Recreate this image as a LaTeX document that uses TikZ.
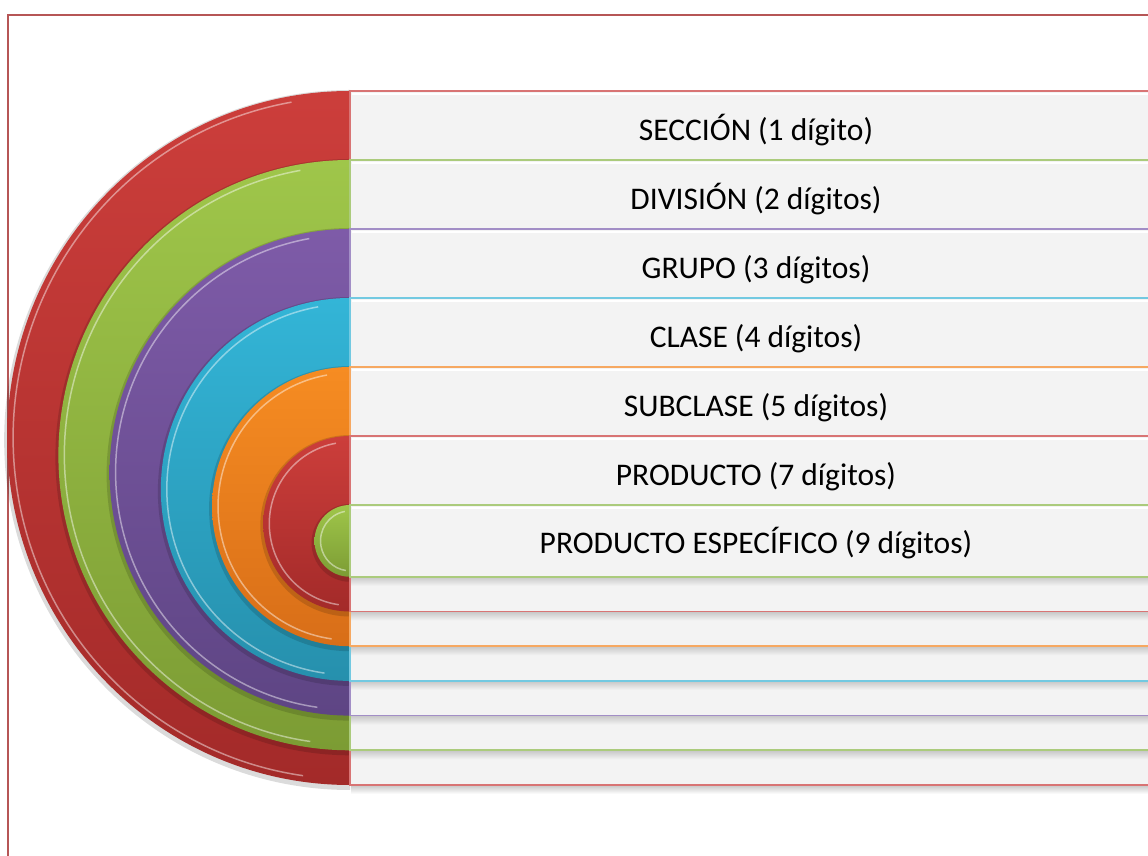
\documentclass[tikz,border=0pt]{standalone}
\usepackage{fontspec}
\setmainfont{Carlito}
\definecolor{redA}{HTML}{CC3E3B}
\definecolor{redB}{HTML}{A32A29}
\definecolor{greenA}{HTML}{9FC64A}
\definecolor{greenB}{HTML}{7C9C34}
\definecolor{purA}{HTML}{7E5BA8}
\definecolor{purB}{HTML}{5E4584}
\definecolor{cyA}{HTML}{33B5D7}
\definecolor{cyB}{HTML}{2690AD}
\definecolor{orA}{HTML}{F68C22}
\definecolor{orB}{HTML}{D86E18}
\definecolor{redL}{HTML}{D87474}
\definecolor{greenL}{HTML}{ABCB7C}
\definecolor{purL}{HTML}{A28EC6}
\definecolor{cyL}{HTML}{72C9E1}
\definecolor{orL}{HTML}{F6A861}
\definecolor{boxfill}{HTML}{F3F3F3}
\definecolor{framecol}{HTML}{B65656}
\begin{document}
\begin{tikzpicture}[x=1pt,y=1pt,
  box/.style={rectangle, fill=boxfill, line width=1.8pt, inner sep=0pt, outer sep=0pt,
              minimum width=830pt, anchor=north west},
  lab/.style={anchor=base, font=\fontsize{31.5}{38}\selectfont, text=black, inner sep=0pt},
  framestyle/.style={draw=framecol, line width=1.5pt}]
\useasboundingbox (0,0) rectangle (1148,856);
\clip (0,0) rectangle (1148,856);
\fill[white] (0,0) rectangle (1148,856);
% frame
\draw[framestyle] (8,-5) -- (8,841) -- (1160,841);
% half discs
\foreach \i/\ca/\cb in {1/redA/redB,2/greenA/greenB,3/purA/purB,4/cyA/cyB,5/orA/orB,6/redA/redB,7/greenA/greenB}{
  \pgfmathsetmacro\tp{765-69*(\i-1)}
  \pgfmathsetmacro\bt{71+34.7*(\i-1)}
  \pgfmathsetmacro\cy{(\tp+\bt)/2}
  \pgfmathsetmacro\r{(\tp-\bt)/2}
  \pgfmathsetmacro\rx{\r*0.988}
  \pgfmathsetmacro\sy{\cy+\r+1}
  \fill[black,opacity=0.14] (350,\sy) arc[start angle=90,end angle=270,x radius=\rx+3,y radius=\r+3] -- cycle;
  \shade[top color=\ca, bottom color=\cb] (350,\tp) arc[start angle=90,end angle=270,x radius=\rx,y radius=\r] -- cycle;
  \draw[white,opacity=0.45,line width=1.5pt] ([shift={(350,\cy)}]100:{\rx-6} and {\r-6}) arc[start angle=100,end angle=262,x radius=\rx-6,y radius=\r-6];
}
% boxes
\foreach \i/\col/\under in {1/redL/white,2/greenL/boxfill,3/purL/boxfill,4/cyL/boxfill,5/orL/boxfill,6/redL/boxfill,7/greenL/boxfill}{
  \pgfmathsetmacro\tp{765-69*(\i-1)}
  \pgfmathsetmacro\bt{71+34.7*(\i-1)}
  \pgfmathsetmacro\h{\tp-\bt}
  \pgfmathsetmacro\sb{\bt-9}
  \shade[top color=black!22, bottom color=\under] (351,\bt) rectangle (1160,\sb);
  \node[box, draw=\col, minimum height=\h pt] (b\i) at (350,\tp) {};
  \draw[white, line width=2pt] ([xshift=2pt,yshift=-3pt]b\i.north west) -- ([yshift=-3pt]b\i.north east);
}
% labels
\node[lab] (t1) at (756,715) {SECCIÓN (1 dígito)};
\node[lab] (t2) at (756,646) {DIVISIÓN (2 dígitos)};
\node[lab] (t3) at (756,577) {GRUPO (3 dígitos)};
\node[lab] (t4) at (756,508) {CLASE (4 dígitos)};
\node[lab] (t5) at (756,439) {SUBCLASE (5 dígitos)};
\node[lab] (t6) at (756,370) {PRODUCTO (7 dígitos)};
\node[lab] (t7) at (756,302) {PRODUCTO ESPECÍFICO (9 dígitos)};
\end{tikzpicture}
\end{document}
